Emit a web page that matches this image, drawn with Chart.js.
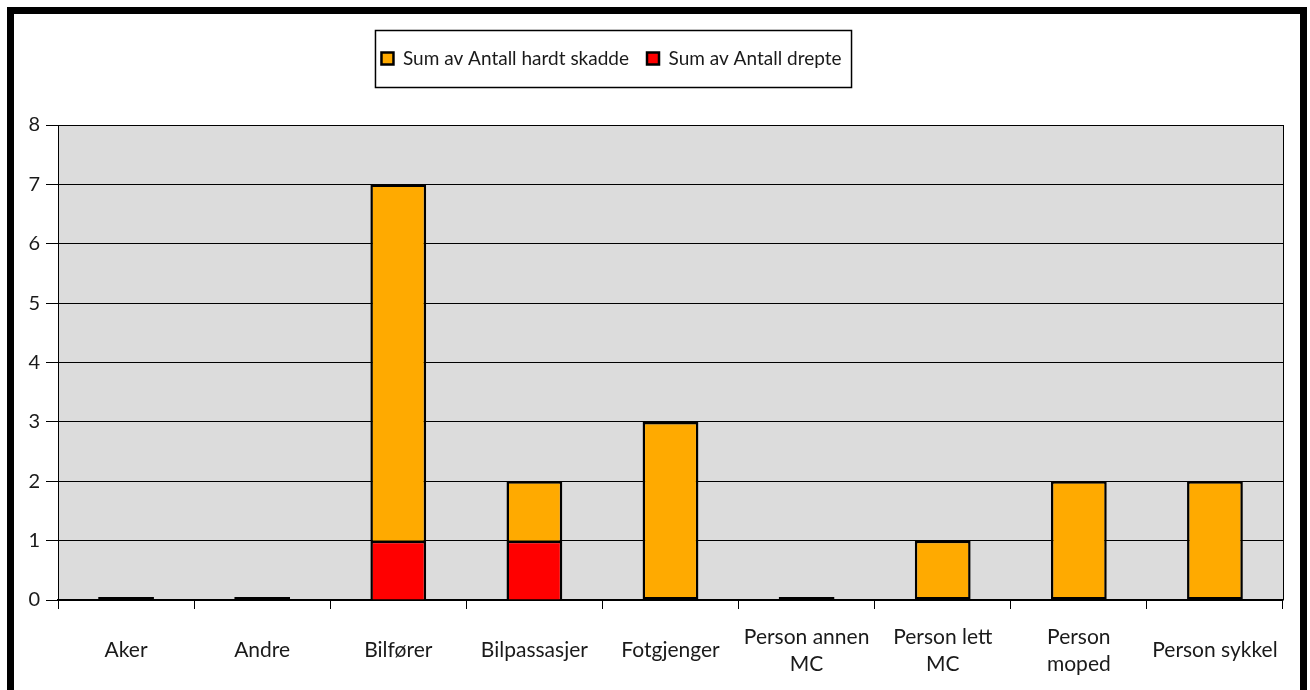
<!DOCTYPE html>
<html><head><meta charset="utf-8">
<script src="https://cdn.jsdelivr.net/npm/chart.js@4.4.1/dist/chart.umd.min.js"></script>
<style>
html,body{margin:0;padding:0;background:#fff;width:1310px;height:690px;overflow:hidden}
#wrap{position:absolute;left:0;top:0;width:1310px;height:690px}
#frame{position:absolute;left:7px;top:7px;width:1286px;height:700px;border:7px solid #000;pointer-events:none}
</style></head><body>
<div id="wrap"><canvas id="c" width="1310" height="690"></canvas></div>
<div id="frame"></div>
<script>
const categories = ['Aker','Andre','Bilfører','Bilpassasjer','Fotgjenger',['Person annen','MC'],['Person lett','MC'],['Person','moped'],'Person sykkel'];
const killed = [0,0,1,1,0,0,0,0,0];
const seriouslyInjured = [0,0,6,1,3,0,1,2,2];
const seriesNames = ['Sum av Antall drepte','Sum av Antall hardt skadde'];
const yMin = 0, yMax = 8, yStep = 1;

const FONT = 'Lato, "Open Sans", sans-serif';

const plotFrame = {
  id:'plotFrame',
  afterLayout(chart){
    const lg = chart.legend; lg.left -= 37; lg.right -= 37;
  },
  beforeDraw(chart){
    const {ctx, chartArea:a} = chart;
    ctx.save();
    ctx.fillStyle = '#dcdcdc';
    ctx.fillRect(a.left, a.top, a.right - a.left, a.bottom - a.top);
    ctx.restore();
  },
  afterDraw(chart){
    const {ctx, chartArea:a} = chart;
    ctx.save();
    ctx.strokeStyle = '#000';
    ctx.lineWidth = 1;
    ctx.beginPath();
    ctx.moveTo(Math.round(a.right)+0.5, a.top);
    ctx.lineTo(Math.round(a.right)+0.5, a.bottom);
    ctx.stroke();
    const hb = chart.legend.legendHitBoxes;
    if (hb && hb.length){
      let l = Infinity, r = -Infinity, mid = 0;
      hb.forEach(h => { l = Math.min(l, h.left); r = Math.max(r, h.left + h.width); mid = h.top + h.height/2; });
      ctx.lineWidth = 1.5;
      ctx.strokeRect(l - 6, mid - 28, (r + 10) - (l - 6), 57);
    }
    ctx.restore();
  }
};

new Chart(document.getElementById('c'), {
  type:'bar',
  data:{
    labels: categories,
    datasets:[
      {label: seriesNames[0], data: killed, backgroundColor:'#ff0000', borderColor:'#000', borderWidth:2.5},
      {label: seriesNames[1], data: seriouslyInjured, backgroundColor:'#ffaa00', borderColor:'#000', borderWidth:2.5, minBarLength:3,
       borderSkipped: ctx => (killed[ctx.dataIndex] > 0 ? 'start' : false)}
    ]
  },
  options:{
    responsive:false,
    animation:false,
    devicePixelRatio:1,
    barPercentage:0.41,
    categoryPercentage:1,
    layout:{padding:{top:31,left:14,right:27,bottom:13}},
    plugins:{
      legend:{
        position:'top',
        reverse:true,
        labels:{boxWidth:12, boxHeight:12, padding:18, color:'#1a1a1a', font:{family:FONT, size:19}}
      },
      title:{display:true, text:'', weight:500, padding:{top:0,bottom:37}, font:{size:10, lineHeight:1}},
      tooltip:{enabled:false}
    },
    scales:{
      x:{
        stacked:true,
        offset:true,
        z:1,
        grid:{display:true, offset:true, drawOnChartArea:false, drawTicks:true, tickLength:9, color:'#000', tickColor:'#000'},
        border:{display:true, color:'#000', width:1.5},
        ticks:{color:'#1a1a1a', font:{family:FONT, size:21, lineHeight:1.29}, padding:28, maxRotation:0, autoSkip:false, crossAlign:'center'},
        afterFit(s){ s.height = 77; }
      },
      y:{
        stacked:true,
        min:yMin, max:yMax,
        grid:{color:'#000', tickColor:'#000', tickLength:12, lineWidth:1},
        border:{display:true, color:'#000', width:1},
        ticks:{stepSize:yStep, color:'#1a1a1a', font:{family:FONT, size:20}, padding:6},
        afterFit(s){ s.width = 44; }
      }
    }
  },
  plugins:[plotFrame]
});
</script>
</body></html>
